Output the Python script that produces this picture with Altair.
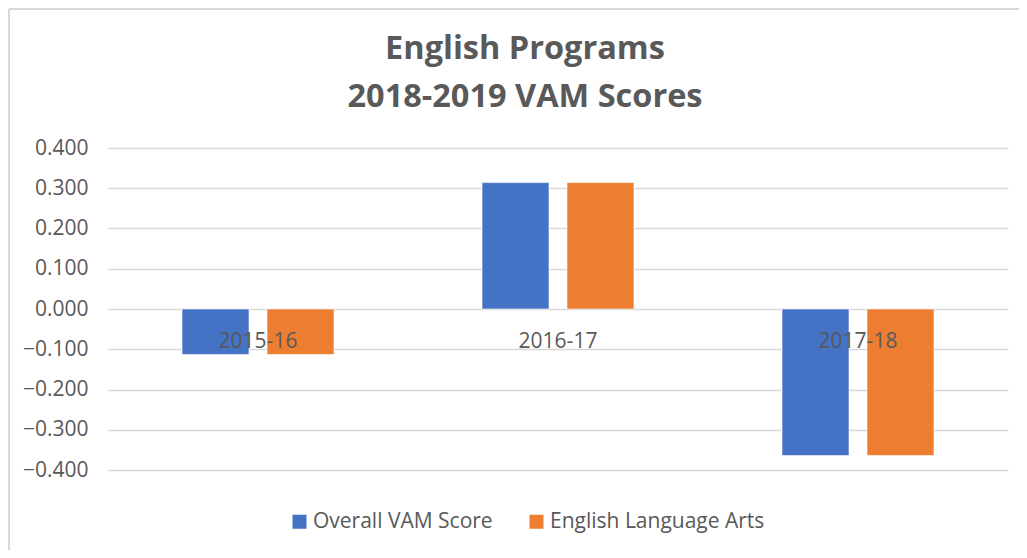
import altair as alt
import pandas as pd

years = ["2015-16", "2016-17", "2017-18"]
series = ["Overall VAM Score", "English Language Arts"]
overall = [-0.113, 0.314, -0.364]
ela = [-0.113, 0.314, -0.364]
colors = ["#4472C4", "#ED7D31"]
y_ticks = [-0.4, -0.3, -0.2, -0.1, 0.0, 0.1, 0.2, 0.3, 0.4]

rows = []
for i, yr in enumerate(years):
    rows.append({"year": yr, "series": series[0], "value": overall[i]})
    rows.append({"year": yr, "series": series[1], "value": ela[i]})
df = pd.DataFrame(rows)

FONT = "Open Sans"
GREY = "#595959"

PAD_L, PAD_T, W, H = 100, 140, 900, 322

bars = alt.Chart(df).mark_bar(stroke="white", strokeWidth=0.6).encode(
    x=alt.X("year:N", sort=years, title=None,
            scale=alt.Scale(paddingInner=0, paddingOuter=0),
            axis=alt.Axis(orient="bottom", offset=-161, labelAngle=0, ticks=False,
                          domain=False, labelFontSize=21, labelColor=GREY,
                          labelFont=FONT, labelPadding=21, grid=False, zindex=2)),
    xOffset=alt.XOffset("series:N", sort=series,
                        scale=alt.Scale(paddingInner=0.212, paddingOuter=0.871)),
    y=alt.Y("value:Q", title=None,
            scale=alt.Scale(domain=[-0.4, 0.4], nice=False),
            axis=alt.Axis(values=y_ticks, format=".3f", ticks=False, domain=False,
                          labelFontSize=21, labelColor=GREY, labelFont=FONT,
                          labelPadding=20, gridColor="#d9d9d9", gridWidth=1.5)),
    color=alt.Color("series:N", sort=series,
                    scale=alt.Scale(domain=series, range=colors),
                    legend=alt.Legend(title=None, orient="none", direction="horizontal",
                                      legendX=181, legendY=363, symbolType="square",
                                      symbolSize=196, symbolStrokeWidth=0,
                                      labelFontSize=21, labelColor=GREY, labelFont=FONT,
                                      labelOffset=3, columnPadding=33, labelLimit=400)),
)

border_left = alt.Chart(df).mark_rule(color="#d9d9d9", strokeWidth=2).encode(
    x=alt.value(-PAD_L + 1), y=alt.value(-PAD_T + 1), y2=alt.value(H + 80)
)
border_top = alt.Chart(df).mark_rule(color="#d9d9d9", strokeWidth=2).encode(
    x=alt.value(-PAD_L + 1), x2=alt.value(W + 20), y=alt.value(-PAD_T + 1)
)

chart = alt.layer(bars, border_left, border_top).properties(
    width=W, height=H,
    autosize=alt.AutoSizeParams(type="none"),
    padding={"left": PAD_L, "top": PAD_T, "right": 11, "bottom": 80},
    title=alt.TitleParams(
        text=["English Programs", "2018-2019 VAM Scores"],
        anchor="middle", dx=-33, offset=-131, fontSize=32.5, font=FONT,
        fontWeight="bold", color=GREY, lineHeight=48, baseline="alphabetic",
    ),
).configure_view(stroke=None)

chart.save("out.html", embed_options={"renderer": "svg", "actions": False})
